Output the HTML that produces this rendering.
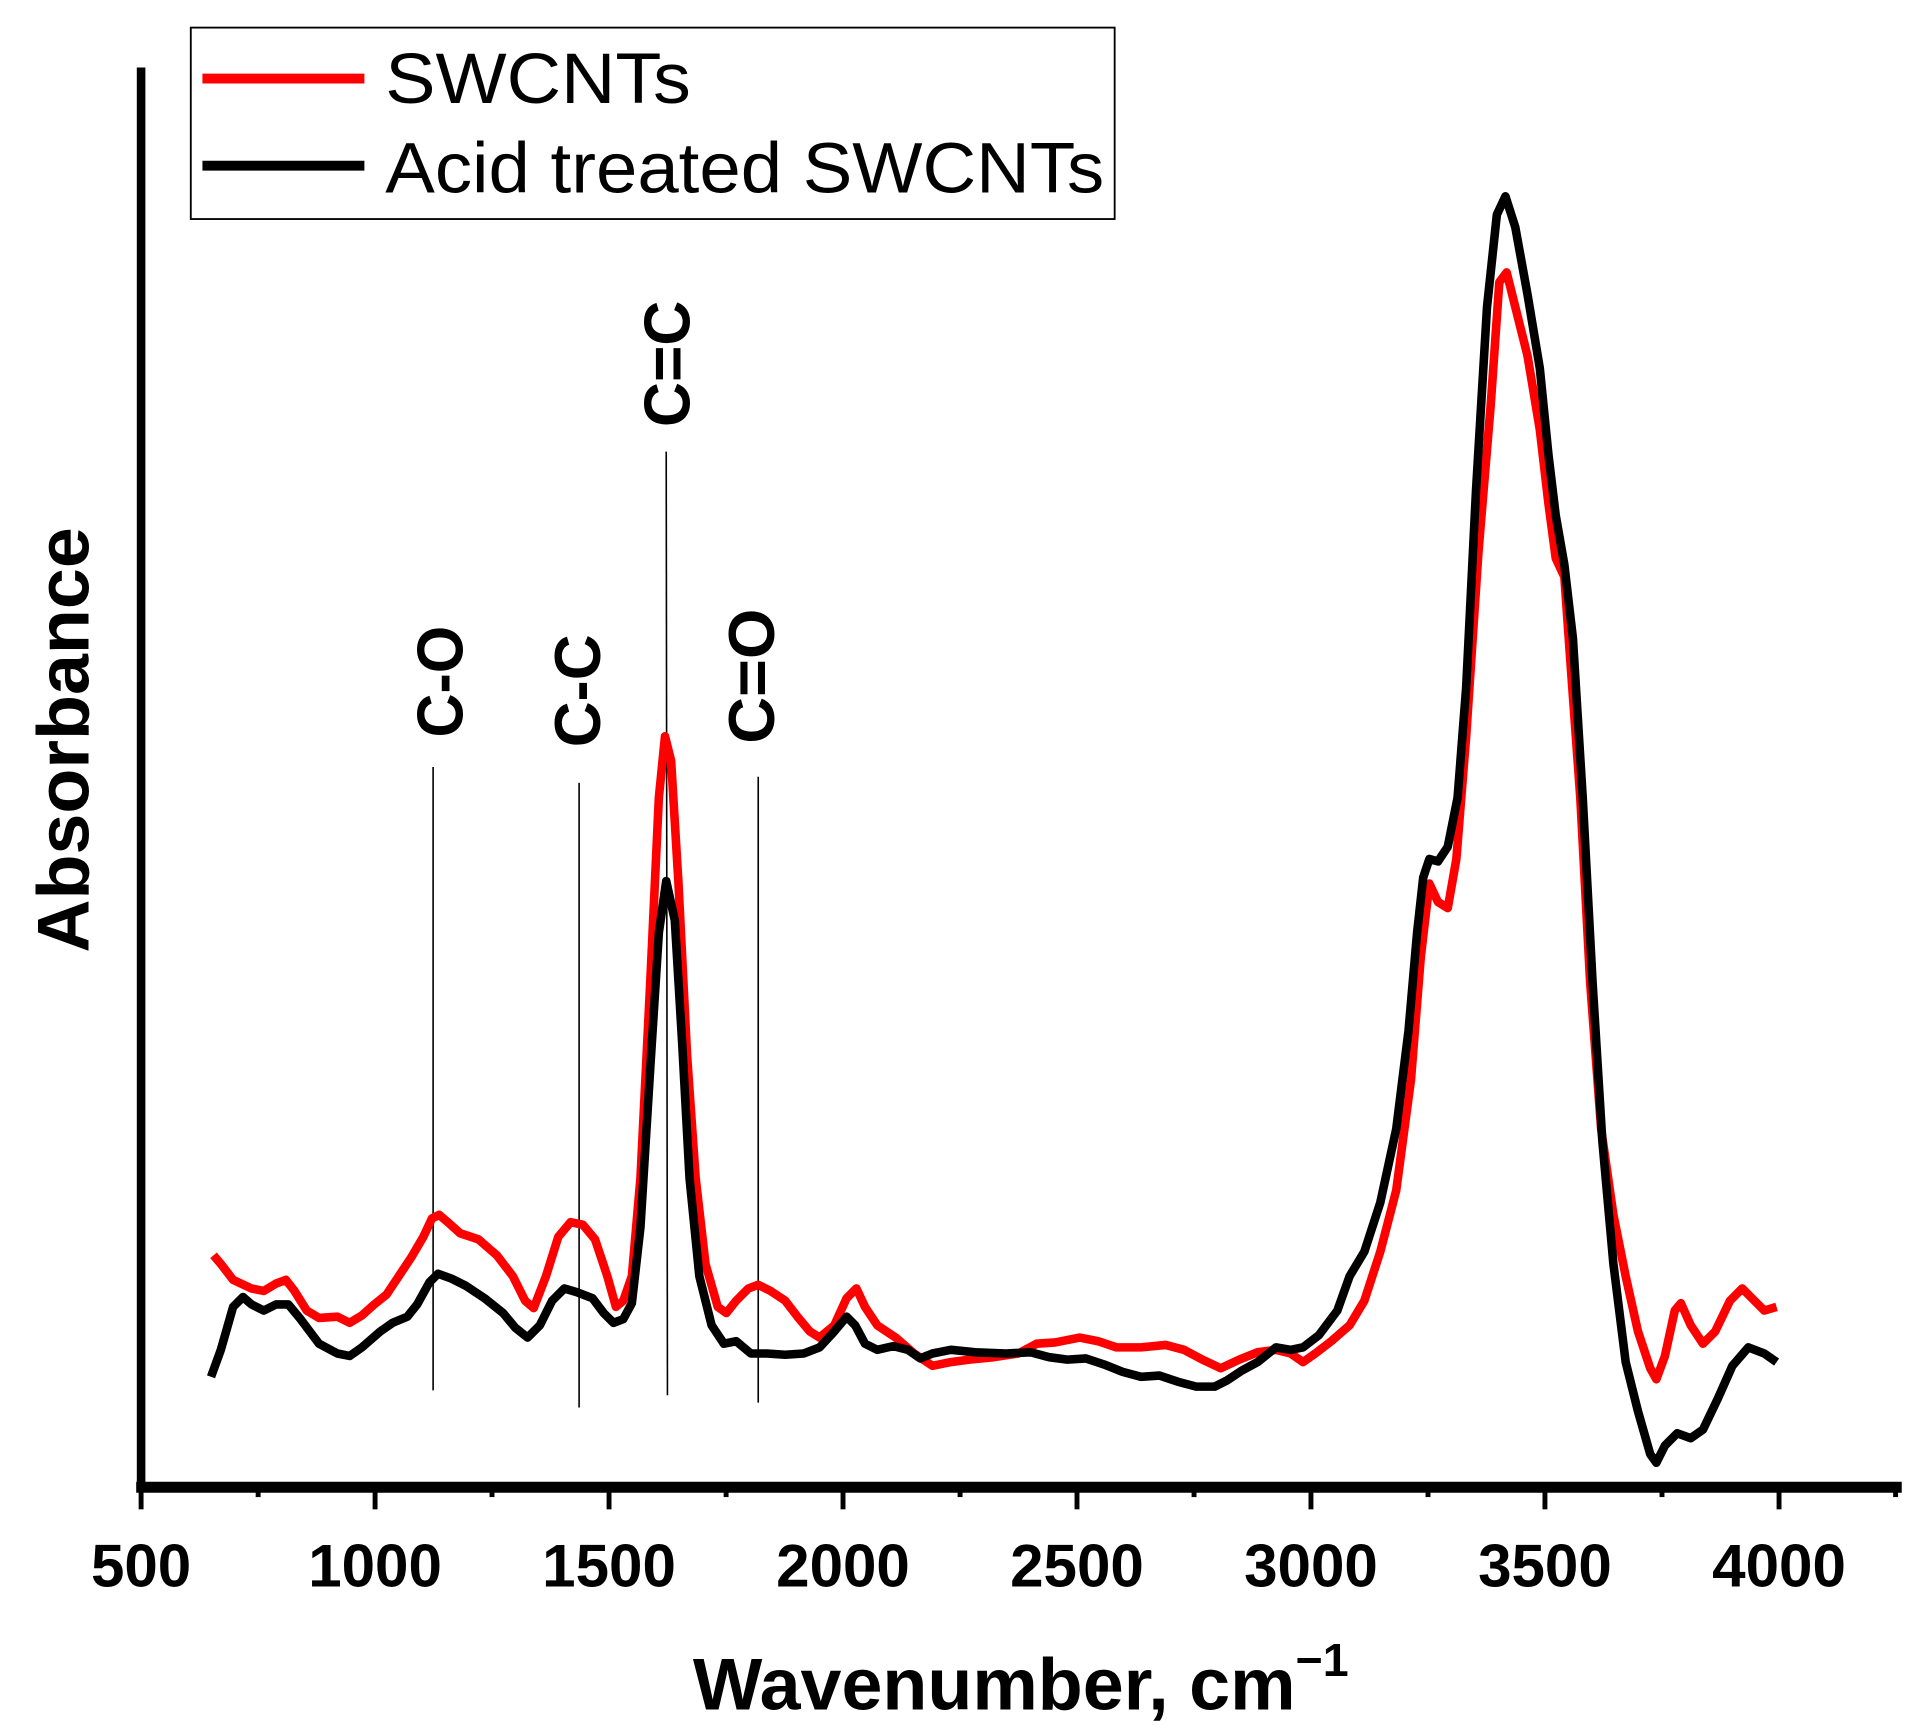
<!DOCTYPE html>
<html><head><meta charset="utf-8"><style>html,body{margin:0;padding:0;background:#fff}svg{display:block}</style></head><body>
<svg width="1914" height="1729" viewBox="0 0 1560 1409" preserveAspectRatio="none" xmlns="http://www.w3.org/2000/svg" font-family="Liberation Sans, Arial, sans-serif">
<rect width="1560" height="1409" fill="#fff"/>
<line x1="115" y1="55" x2="115" y2="1212" stroke="#000" stroke-width="7"/>
<line x1="111" y1="1212" x2="1550" y2="1212" stroke="#000" stroke-width="9"/>
<g stroke="#000" stroke-width="4">
<line x1="115" y1="1212" x2="115" y2="1230"/><line x1="305.7" y1="1212" x2="305.7" y2="1230"/><line x1="496.4" y1="1212" x2="496.4" y2="1230"/><line x1="687.1" y1="1212" x2="687.1" y2="1230"/><line x1="877.8" y1="1212" x2="877.8" y2="1230"/><line x1="1068.5" y1="1212" x2="1068.5" y2="1230"/><line x1="1259.2" y1="1212" x2="1259.2" y2="1230"/><line x1="1450" y1="1212" x2="1450" y2="1230"/>
<line x1="210.4" y1="1212" x2="210.4" y2="1220"/><line x1="401" y1="1212" x2="401" y2="1220"/><line x1="591.8" y1="1212" x2="591.8" y2="1220"/><line x1="782.5" y1="1212" x2="782.5" y2="1220"/><line x1="973.2" y1="1212" x2="973.2" y2="1220"/><line x1="1163.9" y1="1212" x2="1163.9" y2="1220"/><line x1="1354.6" y1="1212" x2="1354.6" y2="1220"/><line x1="1545" y1="1212" x2="1545" y2="1220"/>
</g>
<g font-size="49" font-weight="bold" text-anchor="middle" fill="#000">
<text x="115" y="1293">500</text><text x="305.7" y="1293">1000</text><text x="496.4" y="1293">1500</text><text x="687.1" y="1293">2000</text><text x="877.8" y="1293">2500</text><text x="1068.5" y="1293">3000</text><text x="1259.2" y="1293">3500</text><text x="1450" y="1293">4000</text>
</g>
<text x="832" y="1393" font-size="60" font-weight="bold" text-anchor="middle">Wavenumber, cm<tspan font-size="38" dy="-27">−1</tspan></text>
<text transform="translate(72,603) rotate(-90)" font-size="60" font-weight="bold" text-anchor="middle">Absorbance</text>
<g stroke="#000" stroke-width="1.3">
<line x1="353" y1="625" x2="353" y2="1133"/><line x1="472" y1="638" x2="472" y2="1147"/><line x1="543" y1="368" x2="544" y2="1137"/><line x1="618" y1="633" x2="618" y2="1143"/>
</g>
<g font-size="53" font-weight="bold" text-anchor="start">
<text transform="translate(377,601) rotate(-90)" textLength="91" lengthAdjust="spacingAndGlyphs">C-O</text>
<text transform="translate(489,609) rotate(-90)" textLength="92" lengthAdjust="spacingAndGlyphs">C-C</text>
<text transform="translate(562,348) rotate(-90)" textLength="103" lengthAdjust="spacingAndGlyphs">C=C</text>
<text transform="translate(631,606) rotate(-90)" textLength="110" lengthAdjust="spacingAndGlyphs">C=O</text>
</g>
<polyline fill="none" stroke="#f00" stroke-width="7" stroke-linejoin="round" points="174,1023 180,1030 190,1043 205,1050 215,1052 225,1046 233,1043 240,1052 250,1068 260,1074 275,1073 285,1078 295,1072 305,1063 315,1055 325,1040 335,1025 345,1008 352,993 358,990 365,996 375,1005 390,1010 405,1023 418,1040 428,1060 435,1066 445,1040 455,1008 465,996 475,998 485,1010 495,1040 502,1065 508,1060 515,1040 522,960 530,800 537,650 542,600 547,620 553,720 560,860 567,960 575,1030 585,1065 592,1070 600,1060 610,1050 618,1047 628,1052 640,1060 650,1073 660,1085 668,1090 680,1080 690,1058 698,1050 705,1065 715,1080 730,1090 745,1103 760,1113 775,1110 790,1108 810,1106 830,1103 845,1095 860,1094 880,1090 895,1093 910,1098 930,1098 950,1096 965,1100 980,1108 995,1115 1010,1108 1025,1102 1040,1100 1052,1103 1062,1110 1072,1103 1085,1093 1100,1080 1112,1060 1125,1020 1138,970 1150,880 1158,780 1165,720 1172,735 1180,740 1187,700 1195,600 1205,450 1215,330 1222,230 1228,222 1235,250 1245,290 1255,350 1262,410 1268,455 1275,470 1280,540 1288,650 1296,800 1305,920 1315,990 1325,1040 1335,1085 1345,1115 1350,1124 1357,1105 1365,1068 1370,1062 1378,1080 1388,1095 1398,1085 1410,1060 1420,1050 1430,1060 1438,1068 1448,1065"/>
<polyline fill="none" stroke="#000" stroke-width="7" stroke-linejoin="round" points="172,1122 180,1100 190,1065 198,1057 205,1063 215,1068 225,1063 235,1063 245,1075 260,1095 275,1103 285,1105 295,1098 310,1085 320,1078 332,1073 340,1063 350,1045 357,1038 368,1042 380,1048 395,1058 410,1070 420,1082 430,1090 440,1080 450,1060 460,1050 470,1053 483,1058 492,1070 500,1078 508,1075 515,1062 522,1000 530,870 537,760 543,718 550,750 556,850 562,960 570,1040 580,1080 590,1095 600,1093 612,1103 625,1103 640,1104 655,1103 668,1098 680,1085 690,1073 697,1080 705,1095 715,1100 728,1097 740,1100 750,1107 760,1103 775,1100 795,1102 820,1103 840,1102 855,1106 870,1108 885,1107 900,1112 915,1118 930,1122 945,1121 960,1126 975,1130 990,1130 1000,1125 1012,1117 1025,1110 1040,1098 1052,1100 1062,1098 1075,1088 1090,1068 1100,1040 1112,1020 1125,980 1138,920 1148,840 1155,760 1160,715 1165,700 1172,702 1180,690 1188,650 1195,560 1203,400 1212,250 1220,175 1227,160 1235,185 1245,240 1255,300 1262,370 1268,420 1275,460 1282,520 1290,650 1298,800 1306,930 1315,1030 1325,1110 1335,1150 1345,1185 1350,1192 1357,1178 1367,1168 1378,1172 1388,1165 1400,1140 1412,1113 1425,1098 1438,1103 1448,1110"/>
<rect x="155.5" y="22.5" width="753" height="156" fill="#fff" stroke="#000" stroke-width="1.5"/>
<line x1="165" y1="64" x2="297" y2="64" stroke="#f00" stroke-width="8"/>
<line x1="165" y1="135" x2="297" y2="135" stroke="#000" stroke-width="8"/>
<text x="314" y="84" font-size="58" textLength="249" lengthAdjust="spacingAndGlyphs">SWCNTs</text>
<text x="314" y="157" font-size="58" textLength="586" lengthAdjust="spacingAndGlyphs">Acid treated SWCNTs</text>
</svg>
</body></html>
